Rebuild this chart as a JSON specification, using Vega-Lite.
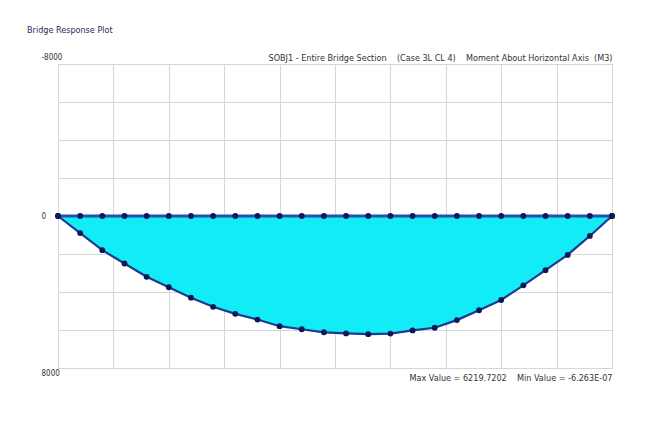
{
  "$schema": "https://vega.github.io/schema/vega-lite/v6.json",
  "width": 554,
  "height": 304,
  "autosize": {"type": "none"},
  "padding": {"left": 58, "top": 64, "right": 54, "bottom": 70},
  "background": "#ffffff",
  "title": {"text": "Bridge Response Plot", "anchor": "start", "frame": "bounds", "fontSize": 9, "font": "DejaVu Sans Condensed, Liberation Sans, sans-serif", "fontWeight": "normal", "color": "#2a2a5a", "offset": 18, "dx": -14},
  "config": {"view": {"stroke": "#c8c8c8"}, "axis": {"gridColor": "#d6d6d6", "gridWidth": 1}},
  "data": {"values": [
    {"i": 0, "m": 0}, {"i": 1, "m": 900}, {"i": 2, "m": 1800}, {"i": 3, "m": 2500},
    {"i": 4, "m": 3200}, {"i": 5, "m": 3750}, {"i": 6, "m": 4300}, {"i": 7, "m": 4780},
    {"i": 8, "m": 5150}, {"i": 9, "m": 5450}, {"i": 10, "m": 5800}, {"i": 11, "m": 5960},
    {"i": 12, "m": 6120}, {"i": 13, "m": 6180}, {"i": 14, "m": 6220}, {"i": 15, "m": 6190},
    {"i": 16, "m": 6020}, {"i": 17, "m": 5880}, {"i": 18, "m": 5480}, {"i": 19, "m": 4960},
    {"i": 20, "m": 4420}, {"i": 21, "m": 3650}, {"i": 22, "m": 2850}, {"i": 23, "m": 2050},
    {"i": 24, "m": 1050}, {"i": 25, "m": 0}
  ]},
  "resolve": {"axis": {"x": "independent"}},
  "encoding": {
    "y": {"field": "m", "type": "quantitative", "scale": {"domain": [-8000, 8000], "reverse": true, "nice": false},
      "axis": {"values": [-8000, -6000, -4000, -2000, 0, 2000, 4000, 6000, 8000], "labelExpr": "datum.value == -8000 ? '-8000' : (datum.value == 0 ? '0' : (datum.value == 8000 ? '8000' : ''))",
        "ticks": false, "tickSize": 0, "domain": false, "grid": true, "title": null, "labelAlign": "left", "labelPadding": 17,
        "labelFont": "DejaVu Sans Condensed, Liberation Sans, sans-serif", "labelFontSize": 8, "labelColor": "#333333",
        "labelOffset": {"condition": [{"test": "datum.value == -8000", "value": -7}, {"test": "datum.value == 8000", "value": 5}], "value": 0}}}
  },
  "layer": [
    {
      "mark": {"type": "area", "color": "#12ecf6", "opacity": 1},
      "encoding": {
        "x": {"field": "i", "type": "quantitative", "scale": {"domain": [0, 25], "nice": false},
          "axis": {"orient": "bottom", "values": [0, 2.5, 5, 7.5, 10, 12.5, 15, 17.5, 20, 22.5, 25], "labels": false, "ticks": false, "domain": false, "grid": true,
            "title": "Max Value = 6219.7202\u00a0\u00a0\u00a0\u00a0Min Value = -6.263E-07", "titleAnchor": "end", "titleFont": "DejaVu Sans Condensed, Liberation Sans, sans-serif", "titleFontSize": 9, "titleFontWeight": "normal", "titleColor": "#333333", "titlePadding": 5, "titleBaseline": "top"}}
      }
    },
    {
      "mark": {"type": "rule", "color": "#2452b0", "strokeWidth": 3},
      "encoding": {
        "x": {"aggregate": "min", "field": "i", "type": "quantitative",
          "axis": {"orient": "top", "labels": false, "ticks": false, "domain": false, "grid": false,
            "title": "SOBJ1 - Entire Bridge Section\u00a0\u00a0\u00a0\u00a0(Case 3L CL 4)\u00a0\u00a0\u00a0\u00a0Moment About Horizontal Axis\u00a0\u00a0(M3)", "titleAnchor": "end", "titleFont": "DejaVu Sans Condensed, Liberation Sans, sans-serif", "titleFontSize": 9, "titleFontWeight": "normal", "titleColor": "#333333", "titlePadding": 2}},
        "x2": {"aggregate": "max", "field": "i"},
        "y": {"datum": 0, "type": "quantitative"}
      }
    },
    {
      "mark": {"type": "line", "color": "#1c3a8e", "strokeWidth": 2.2},
      "encoding": {
        "x": {"field": "i", "type": "quantitative", "axis": null}
      }
    },
    {
      "mark": {"type": "point", "filled": true, "shape": "circle", "size": 34, "color": "#0b1a55", "opacity": 1},
      "encoding": {
        "x": {"field": "i", "type": "quantitative", "axis": null}
      }
    },
    {
      "mark": {"type": "point", "filled": true, "shape": "circle", "size": 34, "color": "#0b1a55", "opacity": 1},
      "encoding": {
        "x": {"field": "i", "type": "quantitative", "axis": null},
        "y": {"datum": 0, "type": "quantitative"}
      }
    }
  ]
}
